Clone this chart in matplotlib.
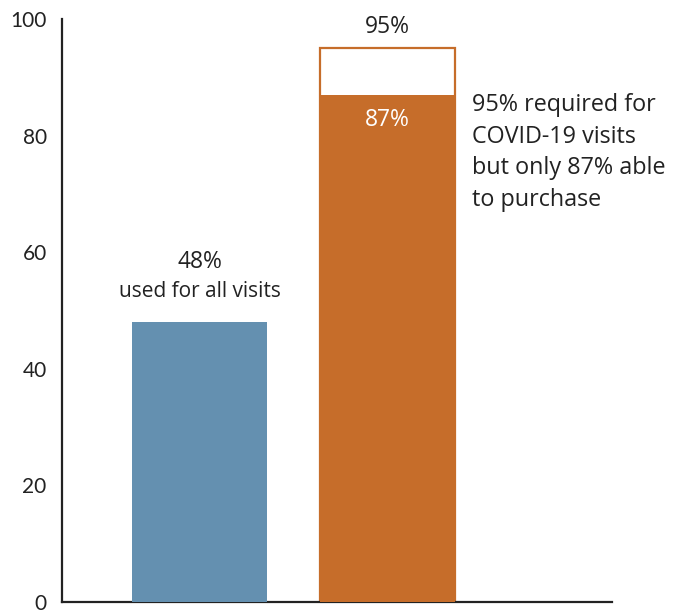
import matplotlib
matplotlib.use('Agg')
import matplotlib.pyplot as plt

plt.rcParams['font.family'] = ['Lato', 'DejaVu Sans']
ann_font = ['Open Sans', 'DejaVu Sans']

# data
groups = ['all visits', 'COVID-19 visits']
required = [48, 95]
purchased = [48, 87]
blue = '#6490b0'
orange = '#c66d2a'

fig = plt.figure(figsize=(6.81, 6.11), dpi=100)
ax = fig.add_axes([0.091, 0.0147, 0.808, 0.954])

x = [0, 1]
w = 0.718
# outline for required share
ax.bar(x[1], required[1], width=w, facecolor='white', edgecolor=orange, linewidth=1.6, zorder=2)
ax.bar(x[0], purchased[0], width=w, color=blue, zorder=3)
ax.bar(x[1], purchased[1], width=w, color=orange, zorder=3)

ax.text(x[0], purchased[0] + 10.3, '48%', ha='center', va='center', fontsize=16.5, color='#222222', family=ann_font)
ax.text(x[0], purchased[0] + 5.2, 'used for all visits', ha='center', va='center', fontsize=15, color='#222222', family=ann_font)
ax.text(x[1], required[1] + 3.6, '95%', ha='center', va='center', fontsize=16.5, color='#222222', family=ann_font)
ax.text(x[1], purchased[1] - 4.3, '87%', ha='center', va='center', fontsize=16.5, color='white', zorder=4, family=ann_font)
ax.text(1.449, 87.3, '95% required for\nCOVID-19 visits\nbut only 87% able\nto purchase',
        ha='left', va='top', fontsize=16.8, color='#222222', linespacing=1.42, family=ann_font)

ax.set_xlim(-0.731, 2.194)
ax.set_ylim(0, 100)
ax.set_yticks([0, 20, 40, 60, 80, 100])
ax.set_xticks([])
ax.tick_params(axis='y', length=0, pad=11, labelsize=15, labelcolor='#222222')
for s in ['top', 'right']:
    ax.spines[s].set_visible(False)
for s in ['left', 'bottom']:
    ax.spines[s].set_linewidth(1.6)
    ax.spines[s].set_color('#222222')

fig.savefig('out.png', dpi=100)
